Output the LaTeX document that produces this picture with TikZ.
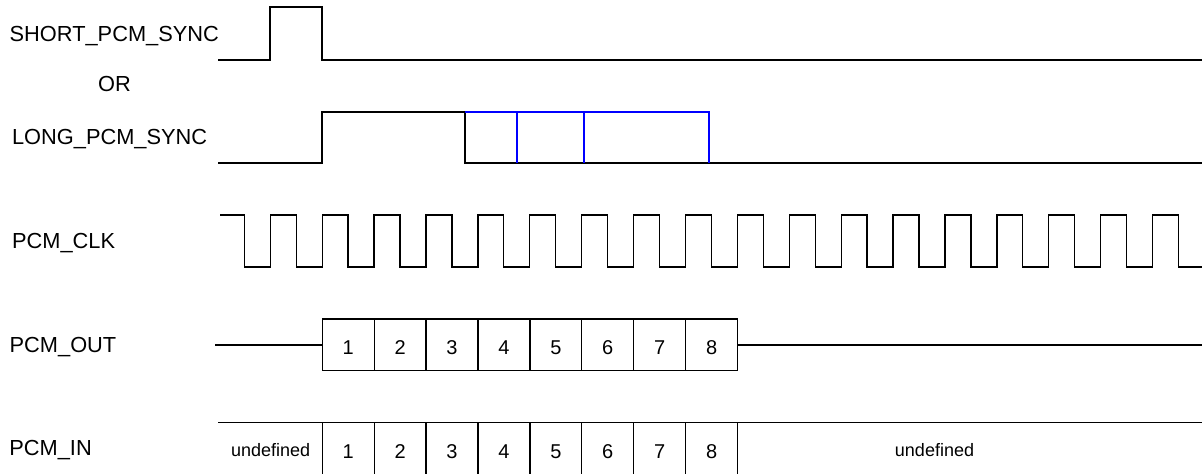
\documentclass[tikz,border=0pt]{standalone}
\usepackage{fontspec}
\setmainfont{Liberation Sans}
\usetikzlibrary{positioning}

\begin{document}
\begin{tikzpicture}[x=0.5pt,y=-0.5pt,
  sig/.style={line width=0.65pt},
  lbl/.style={anchor=base west,inner sep=0pt,font=\fontsize{10.9}{13}\selectfont},
  cell/.style={draw,line width=0.65pt,minimum width=25.95pt,minimum height=25.85pt,
    inner sep=0pt,outer sep=0pt,text height=9.5pt,text depth=0pt,font=\fontsize{10}{12}\selectfont},
  undef/.style={anchor=base,inner sep=0pt,font=\fontsize{9}{11}\selectfont}]
  \useasboundingbox (0,0) rectangle (1202,473);
  \clip (0,0) rectangle (1202,473);
  % signal names
  \node[lbl] (lshort) at (9.3,41.7) {SHORT\_PCM\_SYNC};
  \node[lbl,anchor=base] (lor) at (114.5,91.7) {OR};
  \node[lbl] (llong) at (11.7,144) {LONG\_PCM\_SYNC};
  \node[lbl] (lclk) at (11.7,248.3) {PCM\_CLK};
  \node[lbl] (lout) at (9.3,352.3) {PCM\_OUT};
  \node[lbl] (lin) at (9,455) {PCM\_IN};
  % sync pulses
  \draw[sig] (218,60) -- (270,60) |- (322,7) |- (1202,60);
  \draw[sig] (218,163) -- (322,163) |- (465,112) |- (1202,163);
  \draw[sig,blue] (465,112) -| (709,163);
  \foreach \x in {517,584}
    \draw[sig,blue] (\x,112) -- (\x,163);
  % clock
  \draw[sig] (220,215) -- (244.3,215)
    \foreach \k in {1,...,18} { -- ++(0,52) -- ++(25.95,0) -- ++(0,-52) -- ++(25.95,0) }
    -- ++(0,52) -- (1202,267);
  % PCM_OUT slots
  \foreach \i in {1,...,8}
    \node[cell] (o\i) at ({322.3+51.9*(\i-0.5)},344.85) {\i};
  \coordinate (oL) at (215,344.85);
  \coordinate (oR) at (1202,344.85);
  \draw[sig] (oL) -- (o1);
  \draw[sig] (o8) -- (oR);
  % PCM_IN slots
  \coordinate (iL) at (218,422.7);
  \coordinate (iR) at (1202,422.7);
  \draw[sig] (iL) -- (iR);
  \foreach \i in {1,...,8}
    \node[cell] (i\i) at ({322.3+51.9*(\i-0.5)},448.55) {\i};
  \node[undef] (u1) at (270.7,456) {undefined};
  \node[undef] (u2) at (934.5,456) {undefined};
\end{tikzpicture}
\end{document}
